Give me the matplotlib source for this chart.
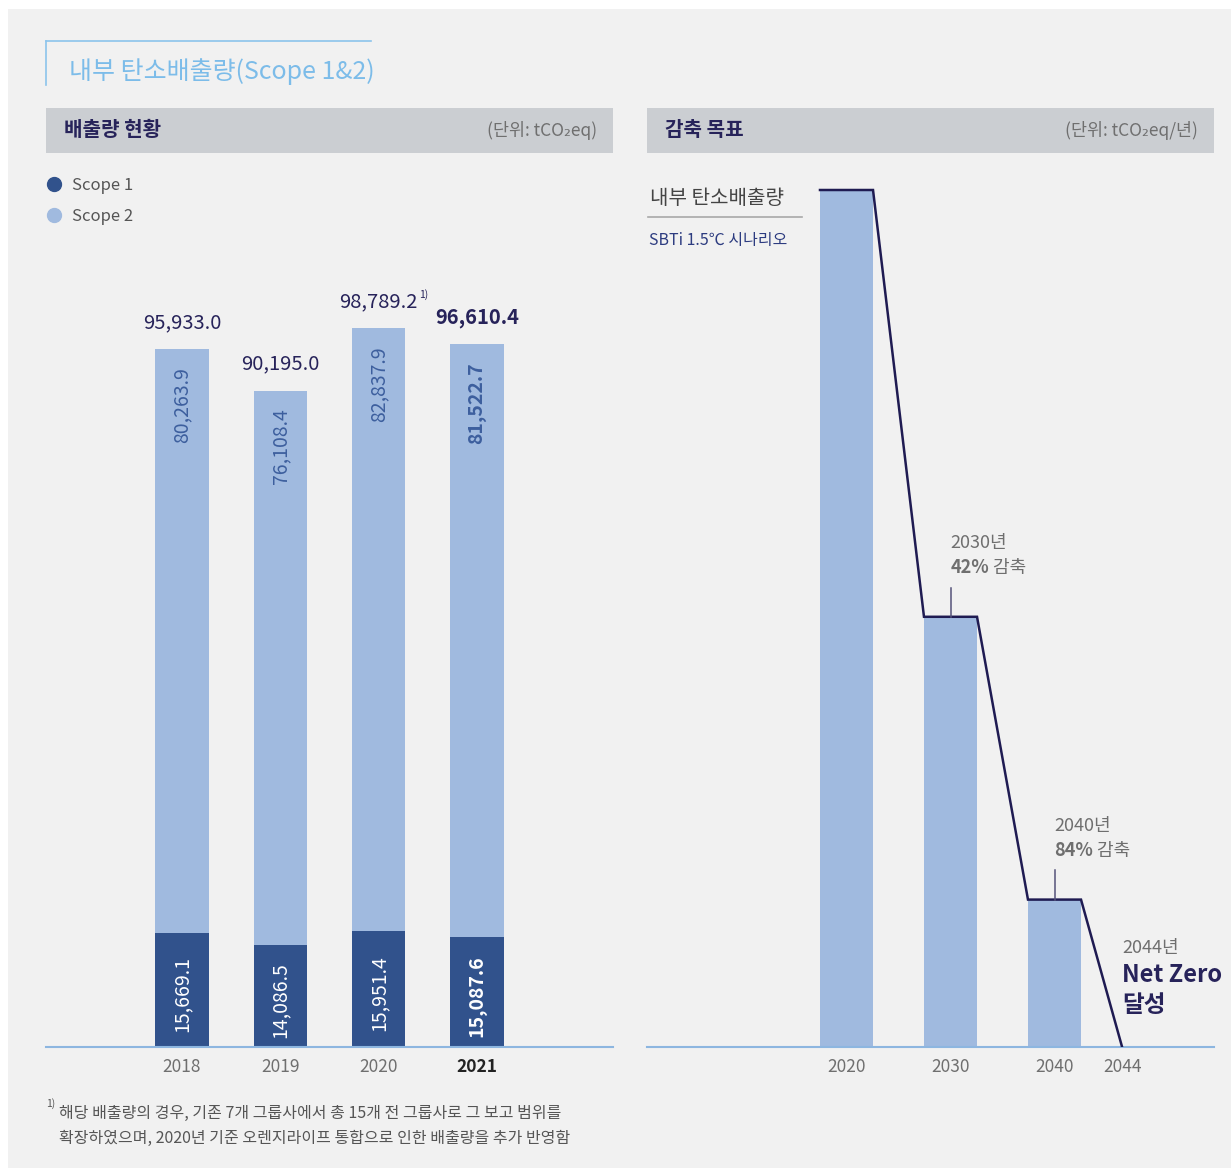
import numpy as np
import matplotlib
matplotlib.use('Agg')
from matplotlib import pyplot as plt
from matplotlib.lines import Line2D
from matplotlib.patches import Rectangle

plt.rcParams['font.family'] = ['Noto Sans CJK KR', 'DejaVu Sans']

# data
years = ['2018', '2019', '2020', '2021']
scope1 = [15669.1, 14086.5, 15951.4, 15087.6]
scope2 = [80263.9, 76108.4, 82837.9, 81522.7]
totals = [95933.0, 90195.0, 98789.2, 96610.4]

target_years = ['2020', '2030', '2040']
target_index = [100, 50.2, 17.2]          # bar height relative to 2020
target_notes = ['', '42%', '84%']
netzero_year = '2044'

W, H = 1231, 1168
C_S1 = '#31528c'
C_S2 = '#a0badf'
NAVY = '#27235a'
GRAY = '#6f6f6f'
AXBLUE = '#8db6e0'
BG = '#f1f1f1'


def fx(x):
    return x / W


def fy(y):
    return 1 - y / H


def box(x0, y0, x1, y1):
    return [fx(x0), fy(y1), fx(x1) - fx(x0), fy(y0) - fy(y1)]


fig = plt.figure(figsize=(W / 100, H / 100), dpi=100, facecolor='white')
fig.patches.append(Rectangle((fx(8), 0), 1, fy(9), transform=fig.transFigure,
                             facecolor=BG, edgecolor='none', zorder=-10))

# title block
fig.add_artist(Line2D([fx(46), fx(371)], [fy(41), fy(41)], color='#8cc4ec', lw=1.2))
fig.add_artist(Line2D([fx(46), fx(46)], [fy(41), fy(85)], color='#8cc4ec', lw=1.2))
fig.text(fx(69), fy(72), '내부 탄소배출량(Scope 1&2)', color='#7cbce9', fontsize=18,
         fontweight='medium', va='center', ha='left')

# section headers
for x0, x1, title, unit in [(46, 613, '배출량 현황', '(단위: tCO₂eq)'),
                            (647, 1214, '감축 목표', '(단위: tCO₂eq/년)')]:
    fig.patches.append(Rectangle((fx(x0), fy(153)), fx(x1) - fx(x0), fy(108) - fy(153),
                                 transform=fig.transFigure, facecolor='#cbced2', edgecolor='none'))
    fig.text(fx(x0 + 18), fy(130), title, color=NAVY, fontsize=14.5, fontweight='bold',
             va='center', ha='left')
    fig.text(fx(x1 - 16), fy(131), unit, color=GRAY, fontsize=12.5, va='center', ha='right')

# ---------- left: emissions ----------
ax = fig.add_axes(box(46, 270, 613, 1047))
ax.set_facecolor('none')
x = np.arange(len(years))
bw = 0.54
ax.bar(x, scope1, bw, color=C_S1, zorder=2)
ax.bar(x, scope2, bw, bottom=scope1, color=C_S2, zorder=2)
ax.set_xlim(-1.383, 4.383)
ax.set_ylim(0, (1047 - 270) / (698 / 95933.0))
for s in ['top', 'right', 'left']:
    ax.spines[s].set_visible(False)
ax.spines['bottom'].set_color(AXBLUE)
ax.spines['bottom'].set_linewidth(1.5)
ax.set_yticks([])
ax.set_xticks(x)
ax.set_xticklabels(years)
ax.tick_params(axis='x', length=0, pad=8, labelsize=12.5, labelcolor=GRAY)
ax.get_xticklabels()[-1].set_fontweight('bold')
ax.get_xticklabels()[-1].set_color('#222222')

for i in range(len(years)):
    last = i == len(years) - 1
    wt = 'bold' if last else 'normal'
    ax.annotate(f'{scope2[i]:,.1f}', (x[i], scope1[i] + scope2[i]), xytext=(0, -18),
                textcoords='offset pixels', rotation=90, ha='center', va='top',
                color='#3d5f9e', fontsize=14, fontweight=wt)
    ax.annotate(f'{scope1[i]:,.1f}', (x[i], scope1[i] / 2), xytext=(0, -4),
                textcoords='offset pixels', rotation=90, ha='center', va='center',
                color='white', fontsize=14, fontweight=wt)
    ax.annotate(f'{totals[i]:,.1f}', (x[i], totals[i]), xytext=(0, 16),
                textcoords='offset pixels', ha='center', va='bottom',
                color=NAVY, fontsize=14.5, fontweight=wt)
ax.annotate('1)', (x[2], totals[2]), xytext=(40, 28), textcoords='offset pixels',
            ha='left', va='bottom', color=NAVY, fontsize=7.5)

leg = fig.legend(handles=[Line2D([], [], marker='o', ls='', color=C_S1, markersize=10),
                          Line2D([], [], marker='o', ls='', color=C_S2, markersize=10)],
                 labels=['Scope 1', 'Scope 2'], loc='upper left',
                 bbox_to_anchor=(fx(29), fy(162)), frameon=False, fontsize=12,
                 handletextpad=0.5, labelspacing=0.85, handlelength=1.2)
for t in leg.get_texts():
    t.set_color('#555555')

# footnote
fig.text(fx(46), fy(1104), '1)', fontsize=7.5, color='#555555', va='center')
fig.text(fx(59), fy(1113), '해당 배출량의 경우, 기존 7개 그룹사에서 총 15개 전 그룹사로 그 보고 범위를',
         fontsize=11.5, color='#555555', va='center')
fig.text(fx(59), fy(1138), '확장하였으며, 2020년 기준 오렌지라이프 통합으로 인한 배출량을 추가 반영함',
         fontsize=11.5, color='#555555', va='center')

# ---------- right: reduction target ----------
ax2 = fig.add_axes(box(647, 170, 1214, 1047))
ax2.set_facecolor('none')
tx = np.arange(len(target_years))
nz_x = 2.65
tw = 0.51
ax2.bar(tx, target_index, tw, color=C_S2, zorder=2)
ax2.set_xlim((647 - 846.5) / 104, (1214 - 846.5) / 104)
ax2.set_ylim(0, (1047 - 170) / 8.57)
for s in ['top', 'right', 'left']:
    ax2.spines[s].set_visible(False)
ax2.spines['bottom'].set_color(AXBLUE)
ax2.spines['bottom'].set_linewidth(1.5)
ax2.set_yticks([])
ax2.set_xticks(list(tx) + [nz_x])
ax2.set_xticklabels(target_years + [netzero_year])
ax2.tick_params(axis='x', length=0, pad=8, labelsize=12.5, labelcolor=GRAY)

px, py = [], []
for i in range(len(target_years)):
    px += [tx[i] - tw / 2, tx[i] + tw / 2]
    py += [target_index[i], target_index[i]]
px.append(nz_x)
py.append(0)
ax2.plot(px, py, color='#1f1b52', lw=1.8, zorder=3, solid_joinstyle='miter')

for i in range(1, len(target_years)):
    ax2.plot([tx[i], tx[i]], [target_index[i], target_index[i] + 3.4], color='#55527a', lw=1.1, zorder=3)
    ax2.annotate(f'{target_years[i]}년', (tx[i], target_index[i]), xytext=(0, 74),
                 textcoords='offset pixels', ha='left', va='center', color=GRAY, fontsize=13)
    t1 = ax2.annotate(target_notes[i], (tx[i], target_index[i]), xytext=(0, 49),
                      textcoords='offset pixels', ha='left', va='center', color=GRAY,
                      fontsize=13, fontweight='bold')
    ax2.annotate(' 감축', (1, 0.5), xycoords=t1, ha='left', va='center', color=GRAY, fontsize=13)

ax2.annotate(f'{netzero_year}년', (nz_x, 0), xytext=(0, 99), textcoords='offset pixels',
             ha='left', va='center', color=GRAY, fontsize=13)
ax2.annotate('Net Zero', (nz_x, 0), xytext=(0, 72), textcoords='offset pixels',
             ha='left', va='center', color=NAVY, fontsize=17, fontweight='bold')
ax2.annotate('달성', (nz_x, 0), xytext=(0, 42), textcoords='offset pixels',
             ha='left', va='center', color=NAVY, fontsize=17, fontweight='bold')

fig.text(fx(650), fy(199), '내부 탄소배출량', color='#444444', fontsize=14.5, va='center')
fig.add_artist(Line2D([fx(648), fx(802)], [fy(217), fy(217)], color='#a8a8a8', lw=1.2))
fig.text(fx(649), fy(241), 'SBTi 1.5℃ 시나리오', color='#2d3c80', fontsize=11.5,
         fontweight='medium', va='center')

fig.savefig('out.png', dpi=100, facecolor=fig.get_facecolor())
